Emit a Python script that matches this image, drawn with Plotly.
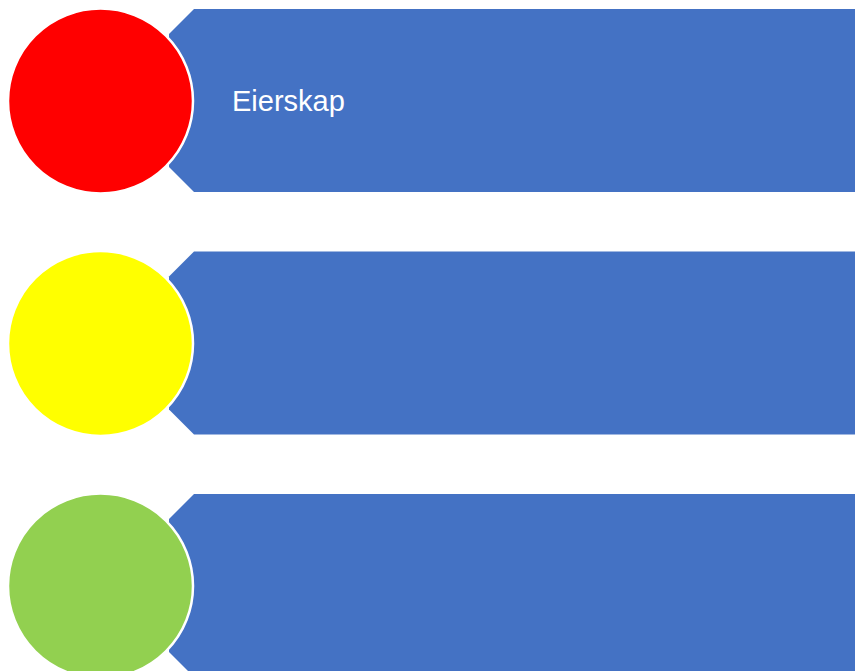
import plotly.graph_objects as go

# Content
labels = ["Eierskap", "", ""]
circle_colors = ["#FF0000", "#FFFF00", "#92D050"]

# Layout constants
W, H = 856, 671
ROW_STEP = 242.5
ROW_TOP0 = 9
ROW_H = 183
NOTCH = 25
BAR_LEFT = 169
BAR_RIGHT = 855
CIRCLE_CX = 100.5
CIRCLE_R = 92.5
BLUE = "#4472C4"

fig = go.Figure()
shapes = []
for i, (lab, col) in enumerate(zip(labels, circle_colors)):
    top = ROW_TOP0 + i * ROW_STEP
    bot = top + ROW_H
    xs = [BAR_LEFT + NOTCH, BAR_RIGHT, BAR_RIGHT, BAR_LEFT + NOTCH, BAR_LEFT, BAR_LEFT, BAR_LEFT + NOTCH]
    ys = [top, top, bot, bot, bot - NOTCH, top + NOTCH, top]
    fig.add_trace(go.Scatter(x=xs, y=ys, fill="toself", fillcolor=BLUE,
                             mode="lines", line=dict(width=0, color=BLUE),
                             hoverinfo="skip", showlegend=False))
    cy = top + ROW_H / 2 + 0.5
    shapes.append(dict(type="circle", xref="x", yref="y",
                       x0=CIRCLE_CX - CIRCLE_R, x1=CIRCLE_CX + CIRCLE_R,
                       y0=cy - CIRCLE_R, y1=cy + CIRCLE_R,
                       fillcolor=col, line=dict(color="white", width=2.5),
                       layer="above"))
    if lab:
        fig.add_annotation(x=230, y=cy, text=lab, showarrow=False,
                           xanchor="left", yanchor="middle",
                           font=dict(family="Liberation Sans, Arial", size=29, color="white"))

fig.update_layout(
    width=W, height=H, autosize=False,
    margin=dict(l=0, r=0, t=0, b=0),
    paper_bgcolor="white", plot_bgcolor="white",
    shapes=shapes,
    xaxis=dict(range=[0, W], visible=False, fixedrange=True),
    yaxis=dict(range=[H, 0], visible=False, fixedrange=True),
)
fig.write_html("out.html", config={"displayModeBar": False},
               post_script="document.body.style.margin='0';document.body.style.overflow='hidden';")
